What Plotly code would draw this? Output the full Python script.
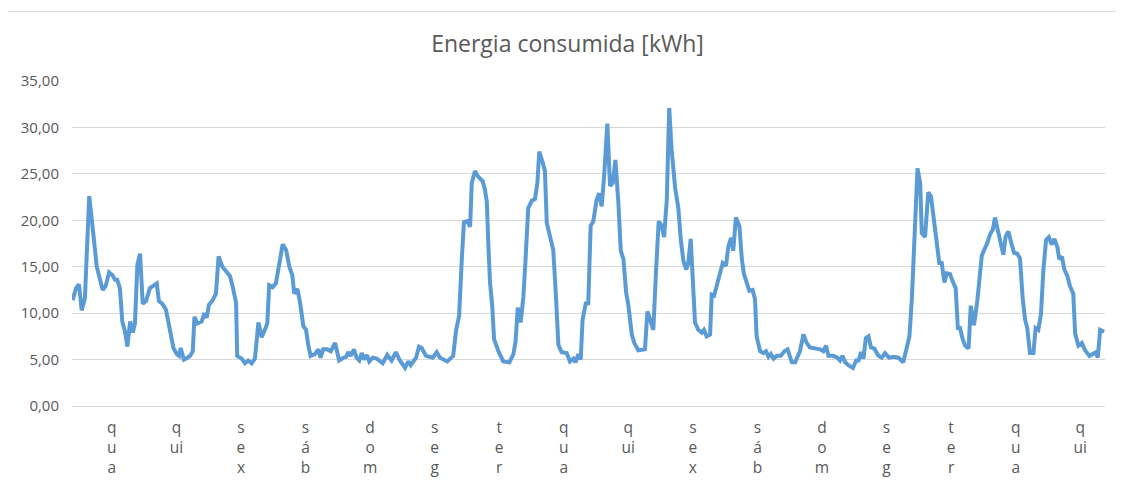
import plotly.graph_objects as go

# time axis in hours from the start of the series
hours = [
    0.25, 1.5, 2.6, 3.6, 4.8, 6.4, 7.9, 9.2, 11.4, 12.5, 13.8, 15.0, 16.0, 16.8, 17.8, 18.7, 19.7, 20.6,
    21.6, 22.6, 23.4, 24.3, 25.3, 26.3, 27.5, 29.0, 31.5, 32.3, 33.6, 34.9, 36.4, 37.7, 38.9, 39.8, 40.4,
    41.6, 42.9, 43.9, 44.9, 45.5, 46.6, 48.2, 49.2, 50.1, 50.9, 52.3, 53.5, 54.5, 55.9, 56.9, 57.9, 58.7,
    59.7, 61.0, 61.4, 63.1, 64.3, 65.5, 66.8, 68.0,
    69.3, 70.5, 71.7, 72.6, 73.3, 74.6, 75.8, 77.1, 78.3, 79.6, 80.8, 81.9, 82.6, 83.8, 84.8, 86.0, 87.0,
    87.8, 88.7, 90.3, 91.6, 92.4, 93.4, 94.9, 96.2, 97.8, 99.3, 100.9, 101.9, 102.7, 103.6, 104.8, 105.8,
    106.8, 107.7, 108.6, 109.6, 110.5, 111.8, 113.3, 115.5, 117.2, 118.8, 120.4, 121.9, 123.8, 125.0,
    125.9, 127.9, 129.0, 130.0, 131.6, 134.1, 135.6, 136.8,
    139.5, 141.7, 142.8, 143.9, 144.9, 145.7, 147.0, 148.0, 148.6, 149.8, 151.0, 152.7, 153.5, 154.2,
    154.8, 155.4, 156.2, 156.9, 158.5, 160.3, 162.6, 164.1, 164.9, 165.7, 166.8, 167.8, 168.6, 169.6,
    170.9, 172.1, 173.0, 173.7, 175.0, 175.8, 176.5, 177.7, 178.9, 179.9, 180.8, 182.0, 183.9, 185.1,
    186.4, 187.2, 188.2, 189.1, 189.8, 191.1, 191.9, 192.8, 193.8, 195.0, 196.0, 196.9, 197.8, 199.0,
    200.0, 201.0, 202.0, 203.1, 204.0, 205.0, 206.0, 206.8, 208.1, 209.0, 210.5, 213.0, 213.9, 214.9,
    216.1, 217.1, 218.1, 219.2, 220.1, 221.1, 222.0, 222.9, 224.2, 225.4, 226.3, 227.3, 228.3, 229.1,
    230.0, 230.7, 231.6, 232.8, 234.1, 234.9, 235.9, 237.2, 237.8, 238.7, 239.9, 240.9, 241.9, 243.1,
    244.0, 245.0, 245.8, 246.8, 248.1,
    249.0, 249.8, 250.8, 251.8, 253.0, 253.9, 254.5, 255.8, 257.0, 258.0, 258.9, 259.8, 260.8, 262.0,
    263.5, 264.8, 266.0, 267.6, 268.8, 270.6, 271.9, 273.1, 274.3, 276.2, 278.1, 279.3, 280.3, 281.2,
    283.0, 284.5, 285.5, 286.4, 287.4, 288.6, 290.3, 291.5, 292.4, 293.3, 294.2, 295.1, 296.1, 297.0,
    298.2, 299.8, 301.0, 302.2, 303.8, 305.3, 307.2, 309.0, 310.3, 311.3, 312.2, 313.0, 314.3, 315.3,
    315.9, 317.1, 318.3, 319.3, 320.4, 321.7, 322.4, 323.3, 324.3, 325.2, 326.4, 327.4, 328.5, 329.3,
    330.1, 331.0, 332.0, 333.3, 334.1, 335.3, 336.6, 338.2, 339.4, 340.3, 341.3, 342.3, 343.1, 344.1,
    345.2, 346.2, 347.1, 348.1, 349.3, 350.2, 351.4, 352.4, 353.4, 354.3, 355.1, 356.1, 357.4, 358.2,
    359.2, 360.2, 361.1, 362.1, 363.1, 364.2, 365.2, 366.3, 367.0, 368.0, 368.9, 370.0, 371.0, 372.2,
    372.9, 374.1, 375.4, 376.6, 378.2, 379.7, 380.7, 381.3, 382.2, 383.7,
]

energia = [
    11.4, 12.7, 13.1, 10.3, 11.6, 22.6, 18.6, 15.0, 12.5, 12.9, 14.4, 14.1, 13.6, 13.6, 12.7, 9.1, 8.0, 6.4,
    9.1, 7.9, 8.9, 15.2, 16.4, 11.0, 11.3, 12.7, 13.2, 11.3, 11.0, 10.4, 8.2, 6.25, 5.6, 5.4, 6.25,
    5.0, 5.2, 5.4, 5.9, 9.6, 8.9, 9.1, 10.0, 9.5, 10.9, 11.4, 12.1, 16.1, 15.0, 14.6, 14.2, 14.0,
    12.9, 11.1, 5.4, 5.1, 4.6, 4.9, 4.6, 5.1,
    9.0, 7.4, 8.2, 8.9, 13.0, 12.8, 13.2, 15.4, 17.4, 16.8, 15.0, 14.1, 12.1, 12.6, 11.1, 8.6, 8.2,
    6.6, 5.4, 5.6, 6.1, 5.2, 6.1, 6.1, 5.9, 6.8, 4.9, 5.2, 5.3, 5.8, 5.4, 6.1, 5.2,
    4.9, 5.7, 5.0, 5.5, 4.8, 5.2, 5.1, 4.6, 5.5, 4.9, 5.8, 4.9, 4.1, 4.8,
    4.4, 5.2, 6.4, 6.25, 5.4, 5.2, 5.8, 5.2,
    4.8, 5.4, 8.2, 9.7, 15.8, 19.8, 19.9, 19.3, 24.0, 25.3, 24.7, 24.2, 23.3, 22.0,
    17.2, 13.3, 10.8, 7.2, 5.9, 4.8, 4.7, 5.6, 7.0, 10.6, 9.0, 11.8, 15.8, 21.3,
    22.1, 22.3, 24.0, 27.4, 26.2, 25.3, 19.7, 18.1, 16.8, 11.8, 6.6, 5.8, 5.7, 4.8,
    5.1, 4.7, 5.6, 5.0, 9.3, 11.2, 10.9, 19.4, 19.9, 22.2, 22.9, 21.5, 24.7, 30.4,
    23.7, 24.0, 26.5, 21.9, 16.7, 15.8, 12.2, 10.9, 7.7, 6.8, 6.0, 6.1, 10.2, 9.3,
    8.2, 14.5, 19.9, 19.4, 18.2, 22.2, 32.1, 27.6, 23.5, 21.3, 17.9, 15.6, 14.7, 15.4,
    18.0, 14.0, 9.0, 8.2, 7.9, 8.2, 7.5, 7.7, 12.0, 11.9, 13.3, 14.1, 15.4, 15.1,
    17.2, 18.1, 16.7, 20.3, 19.4,
    15.8, 14.2, 13.3, 12.4, 12.5, 11.5, 7.5, 5.9, 5.7, 5.9, 5.3, 5.6, 5.1, 5.4,
    5.4, 5.9, 6.1, 4.7, 4.7, 5.9, 7.7, 6.8, 6.3, 6.2, 6.1, 5.9, 6.5, 5.4,
    5.4, 5.2, 4.9, 5.4, 4.7, 4.4, 4.1, 4.9, 4.9, 5.8, 5.1, 7.3, 7.5, 6.3,
    6.2, 5.4, 5.2, 5.7, 5.2, 5.3, 5.2, 4.7, 6.1, 7.5, 11.5, 17.9, 25.6, 24.0,
    18.6, 18.2, 23.0, 22.6, 19.9, 17.2, 15.4, 15.4, 13.3, 14.3, 14.2, 13.4, 12.7, 8.4,
    8.4, 7.3, 6.5, 6.2, 10.8, 8.7, 11.5, 16.2, 16.9, 17.6, 18.5, 19.0, 20.3, 19.0,
    17.9, 16.3, 18.3, 18.8, 17.4, 16.5, 16.4, 15.9, 11.6, 9.3, 8.4, 5.7, 5.7, 8.4,
    8.2, 9.9, 14.7, 17.9, 18.2, 17.4, 18.0, 17.1, 15.8, 16.1, 14.7, 14.0, 12.9, 12.1,
    7.8, 6.5, 6.8, 6.0, 5.4, 5.7, 5.8, 5.2, 8.2, 8.0,
]

dias = ["qua", "qui", "sex", "sáb", "dom", "seg", "ter",
        "qua", "qui", "sex", "sáb", "dom", "seg", "ter", "qua", "qui"]
dia_pos = [14.8 + 24 * i for i in range(len(dias))]
y_ticks = [0, 5, 10, 15, 20, 25, 30, 35]

def vertical(label):
    # stack letters vertically like the original axis labels ("ui" kept together)
    if label == "qui":
        return "q<br>ui"
    return "<br>".join(label)

FONT = "Open Sans"
GREY = "#595959"
GRID = "#d9d9d9"

# the page body has an 8 px margin, so the figure is sized to fit the window
W, H = 1116, 476
L, R, T, B = 64, 19, 73, 78
PW = W - L - R
PH = H - T - B

fig = go.Figure()
fig.add_trace(go.Scatter(
    x=hours, y=energia, mode="lines",
    line=dict(color="#5B9BD5", width=4),
    showlegend=False, hoverinfo="y",
))

fig.update_layout(
    width=W, height=H,
    margin=dict(l=L, r=R, t=T, b=B, autoexpand=False),
    paper_bgcolor="white", plot_bgcolor="white",
    separators=",.",
    title=dict(text="Energia consumida [kWh]", x=(567.5 - 8) / W, xanchor="center",
               y=1 - 36 / H, yanchor="middle",
               font=dict(family=FONT, size=23, color=GREY)),
    font=dict(family=FONT, color=GREY, size=15),
    xaxis=dict(range=[0, 384], tickmode="array", tickvals=dia_pos,
               ticktext=[vertical(d) for d in dias], automargin=False,
               showgrid=False, zeroline=False, showline=True, linecolor=GRID,
               ticks="", ticklabelstandoff=7,
               tickfont=dict(family=FONT, size=15.5, color=GREY)),
    yaxis=dict(range=[0, 35], tickmode="array", tickvals=y_ticks, automargin=False,
               tickformat=".2f", showgrid=True, gridcolor=GRID, gridwidth=1,
               zeroline=True, zerolinecolor=GRID, zerolinewidth=1,
               showline=False, ticks="", ticklabelstandoff=12,
               tickfont=dict(family=FONT, size=15, color=GREY)),
    shapes=[dict(type="rect", xref="paper", yref="paper",
                 x0=(6 - 8 - L) / PW, x1=1.1, y0=-0.5, y1=(PH + T - (11.5 - 8)) / PH,
                 line=dict(color=GRID, width=1), fillcolor="rgba(0,0,0,0)",
                 layer="below")],
)

fig.write_html("out.html")
